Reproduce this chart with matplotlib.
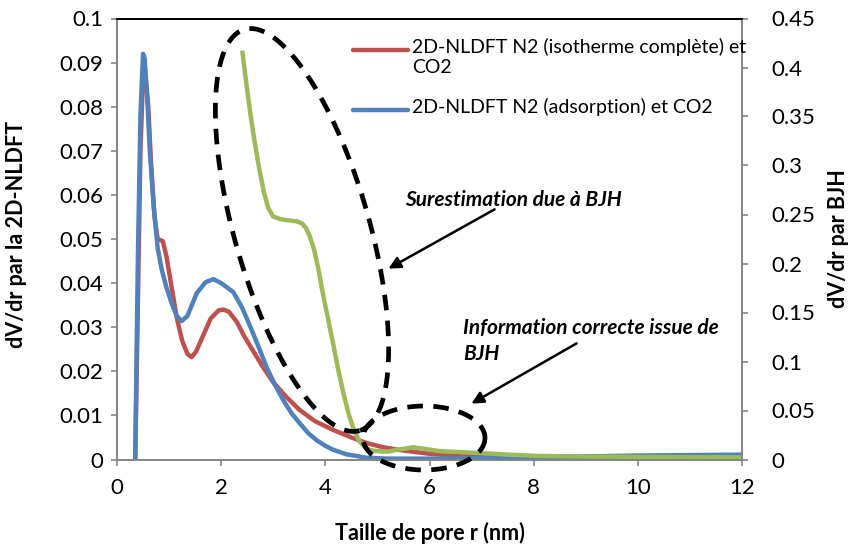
import numpy as np
import matplotlib.pyplot as plt
import matplotlib.transforms as mtransforms
from matplotlib.patches import FancyArrowPatch
from matplotlib.lines import Line2D

plt.rcParams['font.family'] = ['Lato', 'DejaVu Sans']

# 2D-NLDFT N2 (isotherme complete) et CO2  -> left axis
red_x = [0.35, 0.40, 0.45, 0.50, 0.54, 0.60, 0.65, 0.72, 0.78, 0.88, 0.95, 1.05,
         1.15, 1.25, 1.35, 1.43, 1.52, 1.65, 1.80, 1.95, 2.04, 2.15, 2.30, 2.45,
         2.62, 2.80, 3.00, 3.25, 3.50, 3.80, 4.15, 4.50, 4.80, 5.10, 5.45, 6.00,
         6.50, 7.00, 8.00, 9.00, 10.0, 11.0, 12.0]
red_y = [0.0, 0.035, 0.070, 0.087, 0.088, 0.080, 0.068, 0.055, 0.050, 0.0495, 0.046, 0.039,
         0.032, 0.027, 0.024, 0.0232, 0.0245, 0.028, 0.032, 0.0338, 0.034, 0.0335, 0.0312, 0.0278,
         0.0245, 0.021, 0.0175, 0.0142, 0.0113, 0.0087, 0.0067, 0.0050, 0.0037, 0.0028, 0.0021, 0.0013,
         0.0009, 0.0006, 0.0004, 0.0003, 0.0002, 0.0001, 0.0001]

# 2D-NLDFT N2 (adsorption) et CO2 -> left axis
blue_x = [0.35, 0.40, 0.45, 0.50, 0.53, 0.58, 0.63, 0.70, 0.78, 0.86, 0.95, 1.05,
          1.15, 1.24, 1.35, 1.53, 1.70, 1.85, 2.00, 2.23, 2.40, 2.56, 2.72, 2.87,
          3.03, 3.19, 3.35, 3.51, 3.67, 3.83, 4.00, 4.15, 4.40, 4.79, 5.20, 6.00,
          7.00, 8.00, 9.00, 10.0, 11.0, 12.0]
blue_y = [0.0, 0.045, 0.078, 0.092, 0.091, 0.082, 0.070, 0.058, 0.048, 0.043, 0.039, 0.0354,
          0.0325, 0.0314, 0.0325, 0.0377, 0.0402, 0.0409, 0.0400, 0.0380, 0.0345, 0.0301, 0.0255, 0.021,
          0.017, 0.0135, 0.0105, 0.0082, 0.0060, 0.0044, 0.0031, 0.0022, 0.0012, 0.0004, 0.0002, 0.0002,
          0.0003, 0.0005, 0.0007, 0.0009, 0.0010, 0.0011]

# BJH -> right axis
green_x = [2.41, 2.48, 2.56, 2.64, 2.72, 2.81, 2.90, 3.00, 3.15, 3.30, 3.45, 3.55,
           3.63, 3.70, 3.78, 3.86, 3.95, 4.05, 4.15, 4.25, 4.35, 4.45, 4.55, 4.65,
           4.75, 4.86, 5.00, 5.18, 5.40, 5.69, 5.95, 6.20, 6.60, 7.00, 7.50, 8.10,
           9.00, 10.0, 11.0, 12.0]
green_y = [0.415, 0.385, 0.353, 0.325, 0.300, 0.275, 0.257, 0.248, 0.245, 0.244, 0.243, 0.241,
           0.236, 0.228, 0.215, 0.196, 0.170, 0.144, 0.118, 0.091, 0.067, 0.046, 0.030, 0.019,
           0.013, 0.0097, 0.0085, 0.0080, 0.0100, 0.0125, 0.0105, 0.0085, 0.0075, 0.0065, 0.0050, 0.0036,
           0.0030, 0.0026, 0.0024, 0.0022]

labels = ['2D-NLDFT N2 (isotherme complète) et\nCO2', '2D-NLDFT N2 (adsorption) et CO2']
red, blue, green = '#C0504D', '#4F81BD', '#9BBB59'
grey = '#868686'

W, H = 852, 549
fig = plt.figure(figsize=(W / 100, H / 100), dpi=100)
ax = fig.add_axes([117 / W, 89.5 / H, 625 / W, 441 / H])
ax2 = ax.twinx()

ax.plot(red_x, red_y, color=red, lw=3.2, solid_joinstyle='round')
ax.plot(blue_x, blue_y, color=blue, lw=3.2, solid_joinstyle='round')
ax2.plot(green_x, green_y, color=green, lw=3.2, solid_joinstyle='round')

ax.set_xlim(0, 12)
ax.set_ylim(0, 0.1)
ax2.set_ylim(0, 0.45)
ax.set_xticks(np.arange(0, 13, 2))
ax.set_yticks(np.arange(0, 0.101, 0.01))
ax2.set_yticks(np.arange(0, 0.451, 0.05))
ax.set_yticklabels([f'{v:g}' for v in np.arange(0, 0.101, 0.01)])
ax2.set_yticklabels([f'{v:g}' for v in np.arange(0, 0.451, 0.05)])

for a in (ax, ax2):
    for s in a.spines.values():
        s.set_color(grey)
        s.set_linewidth(1.3)
    a.spines['top'].set_color('black')
    a.tick_params(colors=grey, length=4, width=1.2, labelcolor='black', labelsize=16)
ax.tick_params(axis='y', pad=6)
ax.tick_params(axis='x', pad=9)
ax2.tick_params(axis='y', pad=17)

ax.set_xlabel('Taille de pore r (nm)', fontsize=15.5, fontweight='bold')
ax.xaxis.set_label_coords(0.5, -0.142)
ax.set_ylabel('dV/dr par la 2D-NLDFT', fontsize=15.5, fontweight='bold')
ax.yaxis.set_label_coords(-0.144, 0.51)
ax2.set_ylabel('dV/dr par BJH', fontsize=15.5, fontweight='bold')
ax2.yaxis.set_label_coords(1.138, 0.5)

# image-pixel coordinates (y down) for annotations
pix = mtransforms.Affine2D().scale(1 / W, -1 / H).translate(0, 1) + fig.transFigure


def ellipse(cx, cy, a, b, theta):
    t = np.linspace(0, 2 * np.pi, 400)
    th = np.radians(theta)
    x = cx + a * np.cos(t) * np.cos(th) - b * np.sin(t) * np.sin(th)
    y = cy + a * np.cos(t) * np.sin(th) + b * np.sin(t) * np.cos(th)
    fig.add_artist(Line2D(x, y, transform=pix, color='black', lw=3.4,
                          linestyle=(0, (3.3, 2.2)), dash_capstyle='butt', zorder=10))


ellipse(302, 230, 208.7, 67.4, 74)
ellipse(424, 438, 61, 32, 0)

for (x0, y0), (x1, y1) in [((497, 208), (386, 270)), ((579, 342), (469, 405))]:
    fig.add_artist(FancyArrowPatch((x0, y0), (x1, y1), transform=pix, arrowstyle='-|>',
                                   mutation_scale=18, lw=1.8, color='black', zorder=11))

fig.text(405, 200, 'Surestimation due à BJH', transform=pix, fontsize=15,
         fontweight='bold', fontstyle='italic', va='center', ha='left')
fig.text(463, 341, 'Information correcte issue de\nBJH', transform=pix, fontsize=15,
         fontweight='bold', fontstyle='italic', va='center', ha='left', linespacing=1.35)

# legend
for yy, col, txt in [(50, red, labels[0]), (109.5, blue, labels[1])]:
    fig.add_artist(Line2D([353, 408], [yy, yy], transform=pix, color=col, lw=3.2,
                          solid_capstyle='round', zorder=12))
    fig.text(412, yy - 12, txt, transform=pix, fontsize=14, va='top', ha='left',
             linespacing=1.2, zorder=12)

fig.savefig('out.png', dpi=100)
